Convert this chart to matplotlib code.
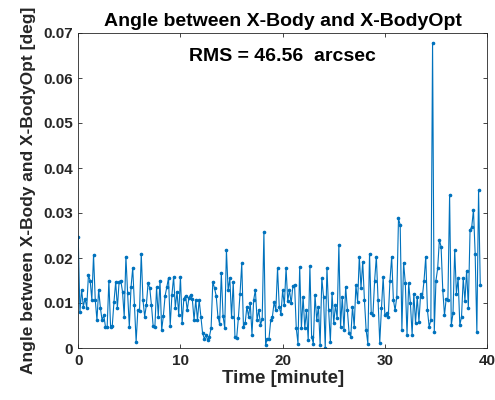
import numpy as np
import matplotlib
matplotlib.use("Agg")
import matplotlib.pyplot as plt

plt.rcParams['font.family'] = ['Liberation Sans', 'DejaVu Sans']

dt_min = 1.0 / 6.0  # sample spacing in minutes

seg1 = [0.0247, 0.008, 0.013, 0.0092, 0.011, 0.009, 0.0162, 0.015, 0.0107, 0.0207,
        0.0107, 0.0062, 0.013, 0.009, 0.0062, 0.0073, 0.0047, 0.0047, 0.015, 0.0047,
        0.005, 0.0103, 0.0147, 0.0089, 0.0147, 0.015, 0.0125, 0.007, 0.0203]
seg2 = [0.0122, 0.0047, 0.0135, 0.0178, 0.0095, 0.0014, 0.0084, 0.0082, 0.021, 0.0107,
        0.007, 0.0095, 0.0144, 0.0133, 0.0095, 0.0048, 0.0046, 0.0135, 0.007, 0.015,
        0.004, 0.0072, 0.0116, 0.0135, 0.0156, 0.005, 0.0118, 0.0158, 0.009, 0.0125, 0.0074]
seg3 = [0.0158, 0.0055, 0.011, 0.0116, 0.0084, 0.0112, 0.0118, 0.0108, 0.0062, 0.0107,
        0.0062, 0.0107, 0.007, 0.0033, 0.0021, 0.0028, 0.0018, 0.0025, 0.0044, 0.0147,
        0.0133, 0.0116, 0.007, 0.0053, 0.0166, 0.0072, 0.0044, 0.0218, 0.0128, 0.0155, 0.0068]
seg4 = [0.0147, 0.0025, 0.0022, 0.0066, 0.0121, 0.0188, 0.0047, 0.0055, 0.0092, 0.007,
        0.0099, 0.003, 0.0107, 0.0129, 0.0062, 0.0085, 0.0051, 0.0065, 0.0258, 0.0007,
        0.0021, 0.0021, 0.0062, 0.007, 0.0102, 0.0084, 0.0177, 0.0092, 0.0075, 0.0128,
        0.0095, 0.0178]
seg5 = [0.0104, 0.0129, 0.0099, 0.0137, 0.014, 0.0044, 0.001, 0.018, 0.0044, 0.0114,
        0.0044, 0.0084, 0.0018, 0.0182, 0.0025, 0.001, 0.0118, 0.0062, 0.0092, 0.0007,
        0.0155, 0.0114, 0.0001, 0.0178, 0.0084, 0.0014, 0.0122, 0.0055, 0.0095, 0.0066]
seg6 = [0.0229, 0.0047, 0.0114, 0.004, 0.0136, 0.0084, 0.0033, 0.0025, 0.0092, 0.0047,
        0.014, 0.0103, 0.0203, 0.0133, 0.0192, 0.0107, 0.004, 0.001, 0.021, 0.0077,
        0.0074, 0.015, 0.0203, 0.0107, 0.0012, 0.0088]
seg7 = [0.0158, 0.0073, 0.0077, 0.0069, 0.015, 0.0203, 0.0107, 0.0084, 0.0114, 0.0288,
        0.0273, 0.004, 0.019, 0.0144, 0.003, 0.0144, 0.0099, 0.003, 0.0121, 0.0055,
        0.0114, 0.0058, 0.0121, 0.0114, 0.015, 0.0203, 0.0084, 0.0047, 0.0062, 0.0678,
        0.0036, 0.015, 0.0177, 0.024, 0.0225, 0.0128, 0.0073, 0.011, 0.0107, 0.034,
        0.0051, 0.0077, 0.0218, 0.0121, 0.0155, 0.0051, 0.0069, 0.0155, 0.0105, 0.0172,
        0.009, 0.0262, 0.0269, 0.0307, 0.021, 0.0036, 0.0351, 0.014]

angle_deg = np.array(seg1 + seg2 + seg3 + seg4 + seg5 + seg6 + seg7)
time_min = np.arange(len(angle_deg)) * dt_min

title = "Angle between X-Body and X-BodyOpt"
xlabel = "Time [minute]"
ylabel = "Angle between X-Body and X-BodyOpt [deg]"
rms_text = "RMS = 46.56  arcsec"
xticks = [0, 10, 20, 30, 40]
yticks = [0, 0.01, 0.02, 0.03, 0.04, 0.05, 0.06, 0.07]

fig = plt.figure(figsize=(4.95, 4.0), dpi=100)
ax = fig.add_axes([0.158, 0.13, 0.826, 0.7875])
line_color = '#0072BD'
ax.plot(time_min, angle_deg, '-', color=line_color, lw=0.8,
        marker='o', markersize=1.6, markerfacecolor=line_color, markeredgecolor=line_color)

ax.set_xlim(0, 40)
ax.set_ylim(0, 0.07)
ax.set_xticks(xticks)
ax.set_xticklabels([str(v) for v in xticks])
ax.set_yticks(yticks)
ax.set_yticklabels(['0'] + ['%.2f' % v for v in yticks[1:]])

ax.tick_params(direction='in', top=True, right=True, length=3, width=0.6,
               colors='#262626', labelsize=11, pad=4)
for lbl in ax.get_xticklabels() + ax.get_yticklabels():
    lbl.set_fontweight('bold')
    lbl.set_color('#262626')
for s in ax.spines.values():
    s.set_color('#262626')
    s.set_linewidth(0.6)

ax.set_title(title, fontsize=14, fontweight='bold', color='#000000', pad=5)
ax.set_xlabel(xlabel, fontsize=13.5, fontweight='bold', color='#262626', labelpad=2)
ax.set_ylabel(ylabel, fontsize=12.5, fontweight='bold', color='#262626', labelpad=5)
ax.text(20, 0.0648, rms_text, ha='center', va='center', fontsize=14,
        fontweight='bold', color='#000000')

fig.savefig('out.png', dpi=100)
